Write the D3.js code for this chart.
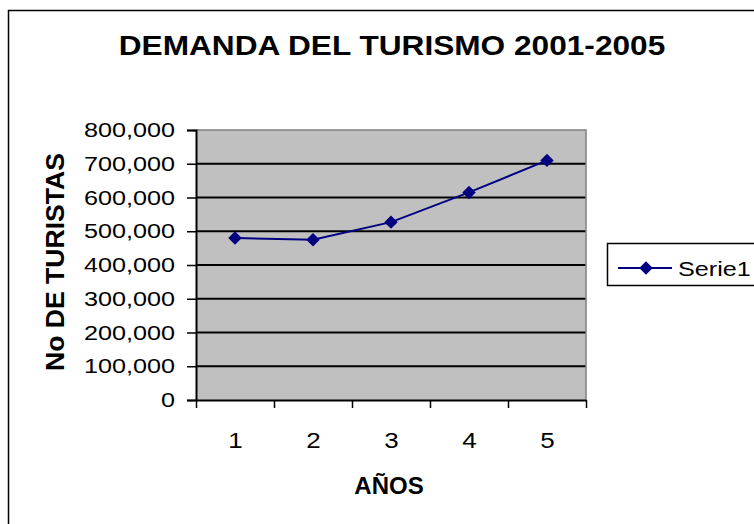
<!DOCTYPE html>
<html>
<head>
<meta charset="utf-8">
<script src="https://cdn.jsdelivr.net/npm/d3@7"></script>
<style>
  body { margin: 0; background: #fff; }
  svg { display: block; font-family: Arial, "Liberation Sans", sans-serif; }
</style>
</head>
<body>
<div id="chart"></div>
<script>
const years = [1, 2, 3, 4, 5];
const tourists = [480000, 475000, 527000, 615000, 710000];
const yTicks = [0, 100000, 200000, 300000, 400000, 500000, 600000, 700000, 800000];
const seriesName = 'Serie1';
const chartTitle = 'DEMANDA DEL TURISMO 2001-2005';
const xTitle = 'AÑOS';
const yTitle = 'No DE TURISTAS';

const width = 754;
const height = 524;
const plot = { left: 196, top: 130, right: 586, bottom: 400 };

const svg = d3.select('#chart')
  .append('svg')
  .attr('width', width)
  .attr('height', height);

// widen glyphs horizontally around their x anchor (original text is stretched)
function widen(sel, k) {
  sel.each(function () {
    const x0 = +(this.getAttribute('x') || 0);
    d3.select(this).attr('transform', `translate(${x0 * (1 - k)},0) scale(${k},1)`);
  });
}

// outer chart border (runs off the right and bottom edges)
svg.append('rect')
  .attr('x', 8.5).attr('y', 10.5)
  .attr('width', 900).attr('height', 700)
  .attr('fill', '#fff')
  .attr('stroke', '#000')
  .attr('stroke-width', 1.5);

const x = d3.scaleLinear()
  .domain([0.5, years.length + 0.5])
  .range([plot.left, plot.right]);

const y = d3.scaleLinear()
  .domain([0, 800000])
  .range([plot.bottom, plot.top]);

// plot area
svg.append('rect')
  .attr('x', plot.left).attr('y', plot.top)
  .attr('width', plot.right - plot.left)
  .attr('height', plot.bottom - plot.top)
  .attr('fill', '#c0c0c0');

// gridlines
svg.append('g')
  .selectAll('line')
  .data(yTicks.filter(d => d > 0 && d < 800000))
  .join('line')
  .attr('x1', plot.left).attr('x2', plot.right)
  .attr('y1', d => y(d)).attr('y2', d => y(d))
  .attr('stroke', '#000')
  .attr('stroke-width', 2);

// top/right plot border
svg.append('path')
  .attr('d', `M${plot.left},${plot.top}H${plot.right}V${plot.bottom}`)
  .attr('fill', 'none')
  .attr('stroke', '#808080')
  .attr('stroke-width', 1.5);

// y axis
const yAxis = svg.append('g')
  .attr('transform', `translate(${plot.left},0)`)
  .call(d3.axisLeft(y)
    .tickValues(yTicks)
    .tickSize(9)
    .tickPadding(12)
    .tickFormat(d3.format(',')));
yAxis.select('.domain').attr('stroke-width', 2);
yAxis.selectAll('.tick line').attr('stroke-width', 1.5);
yAxis.selectAll('text')
  .attr('font-size', 21)
  .attr('fill', '#000')
  .attr('font-family', 'Arial, "Liberation Sans", sans-serif')
  .call(widen, 1.2);

// x axis: ticks on category boundaries
const xAxis = svg.append('g')
  .attr('transform', `translate(0,${plot.bottom})`)
  .call(d3.axisBottom(x)
    .tickValues(d3.range(0.5, years.length + 1, 1))
    .tickSize(8)
    .tickSizeOuter(0)
    .tickFormat(''));
xAxis.select('.domain').attr('stroke-width', 2);
xAxis.selectAll('.tick line').attr('stroke-width', 1.5);

// x labels at category centres
const xLabels = svg.append('g')
  .attr('transform', `translate(0,${plot.bottom})`)
  .call(d3.axisBottom(x)
    .tickValues(years)
    .tickSize(0)
    .tickPadding(32)
    .tickFormat(d3.format('d')));
xLabels.select('.domain').remove();
xLabels.selectAll('text')
  .attr('font-size', 22)
  .attr('fill', '#000')
  .attr('font-family', 'Arial, "Liberation Sans", sans-serif')
  .call(widen, 1.18);

// series
const line = d3.line()
  .x((d, i) => x(years[i]))
  .y(d => y(d));

svg.append('path')
  .datum(tourists)
  .attr('d', line)
  .attr('fill', 'none')
  .attr('stroke', '#000080')
  .attr('stroke-width', 2);

const diamond = d3.symbol().type(d3.symbolDiamond2).size(115);

svg.append('g')
  .selectAll('path')
  .data(tourists)
  .join('path')
  .attr('transform', (d, i) => `translate(${x(years[i])},${y(d)})`)
  .attr('d', diamond)
  .attr('fill', '#000080');

// titles
svg.append('text')
  .attr('x', 392).attr('y', 55)
  .attr('text-anchor', 'middle')
  .attr('font-size', 28)
  .attr('font-weight', 'bold')
  .text(chartTitle)
  .call(widen, 1.13);

svg.append('text')
  .attr('x', 389).attr('y', 494)
  .attr('text-anchor', 'middle')
  .attr('font-size', 24)
  .attr('font-weight', 'bold')
  .text(xTitle);

svg.append('text')
  .attr('transform', 'translate(64,262) rotate(-90)')
  .attr('text-anchor', 'middle')
  .attr('font-size', 25)
  .attr('font-weight', 'bold')
  .text(yTitle)
  .attr('textLength', 218)
  .attr('lengthAdjust', 'spacingAndGlyphs');

// legend
const legend = svg.append('g').attr('transform', 'translate(607,243)');
legend.append('rect')
  .attr('x', 0.5).attr('y', 0.5)
  .attr('width', 200).attr('height', 42)
  .attr('fill', '#fff')
  .attr('stroke', '#000')
  .attr('stroke-width', 1.5);
legend.append('line')
  .attr('x1', 11).attr('x2', 65)
  .attr('y1', 25).attr('y2', 25)
  .attr('stroke', '#000080')
  .attr('stroke-width', 2);
legend.append('path')
  .attr('transform', 'translate(39,25)')
  .attr('d', diamond)
  .attr('fill', '#000080');
legend.append('text')
  .attr('x', 71).attr('y', 33)
  .attr('font-size', 21)
  .text(seriesName)
  .call(widen, 1.2);
</script>
</body>
</html>
